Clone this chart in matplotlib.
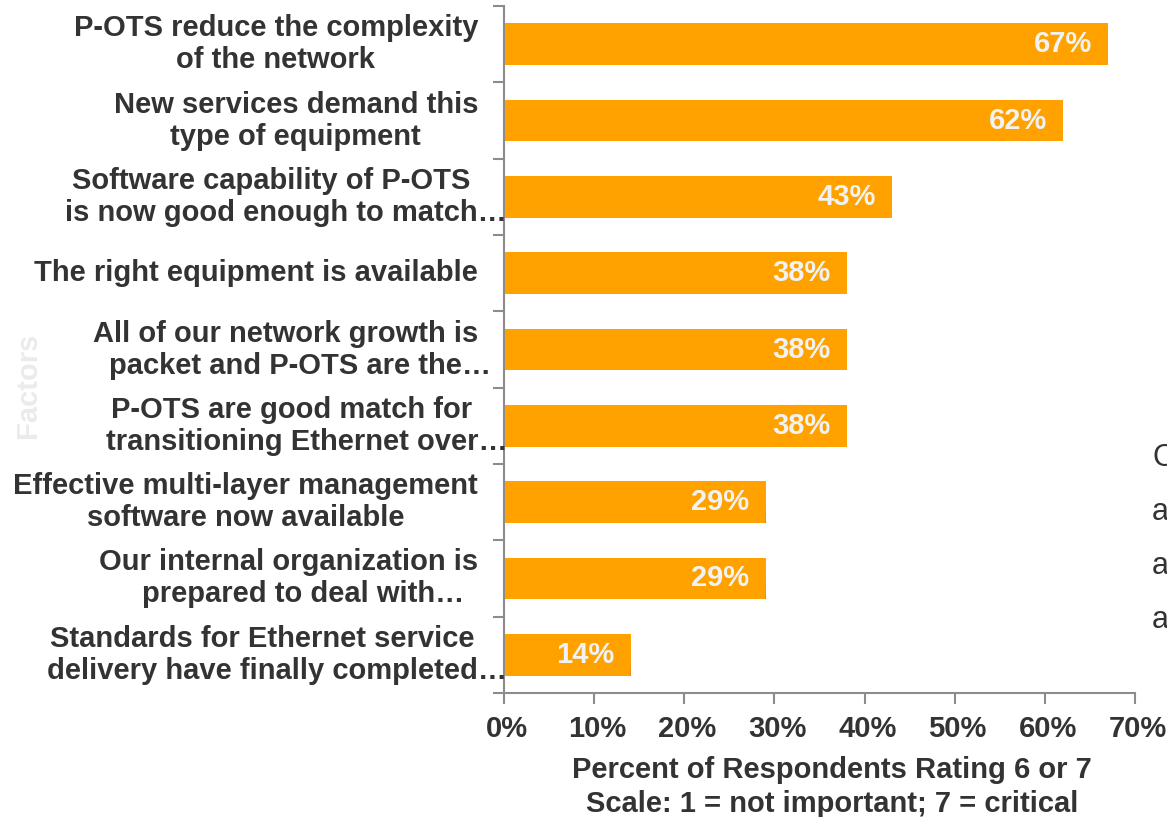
import matplotlib
matplotlib.use("Agg")
import matplotlib.pyplot as plt
import matplotlib.transforms as mtransforms
import numpy as np
from matplotlib.colors import LinearSegmentedColormap
from matplotlib.ticker import FixedLocator

# survey factors, top to bottom
factors = [
    "P-OTS reduce the complexity\nof the network",
    "New services demand this\ntype of equipment",
    "Software capability of P-OTS\nis now good enough to match…",
    "The right equipment is available",
    "All of our network growth is\npacket and P-OTS are the…",
    "P-OTS are good match for\ntransitioning Ethernet over…",
    "Effective multi-layer management\nsoftware now available",
    "Our internal organization is\nprepared to deal with…",
    "Standards for Ethernet service\ndelivery have finally completed…",
]
share = [67, 62, 43, 38, 38, 38, 29, 29, 14]
xticks = [0, 10, 20, 30, 40, 50, 60, 70]
side_letters = ["C", "a", "a", "a"]

plt.rcParams["font.family"] = ["Liberation Sans", "DejaVu Sans"]
plt.rcParams["font.weight"] = "bold"

TXT = "#333333"
GREY = "#8C8C8C"
FS = 21

W, H = 1167, 817
fig = plt.figure(figsize=(W / 100, H / 100), dpi=100)
ax = fig.add_axes([504 / W, 1 - 693 / H, (1135 - 504) / W, (693 - 6) / H])

ypos = np.arange(len(factors))[::-1]
bars = ax.barh(ypos, share, height=0.55, color="#FFA200", edgecolor="none")

# orange shading, light at top and darker at the lower edge
shade = LinearSegmentedColormap.from_list(
    "shade", [(0.0, "#F47820"), (0.12, "#FA8C10"), (0.3, "#FE9D02"), (1.0, "#FFAA00")])
grad = np.linspace(0, 1, 64).reshape(-1, 1)
for b in bars:
    x0, y0 = b.get_x(), b.get_y()
    im = ax.imshow(grad, cmap=shade, origin="lower", aspect="auto",
                   extent=[x0, x0 + b.get_width(), y0, y0 + b.get_height()])
    im.set_clip_path(b)

for y, v in zip(ypos, share):
    ax.text(v - 1.8, y, f"{v}%", ha="right", va="center", color="#F2F2F2",
            fontsize=21, fontweight="bold")

ax.set_xlim(0, 70)
ax.set_ylim(-0.5, len(factors) - 0.5)

ax.set_xticks(xticks)
ax.set_xticklabels([f"{t}%" for t in xticks], fontsize=FS, color=TXT)
ax.tick_params(axis="x", length=8, width=1.5, color=GREY, pad=8)
shift = mtransforms.ScaledTranslation(3 / 100, 0, fig.dpi_scale_trans)
for lab in ax.get_xticklabels():
    lab.set_transform(lab.get_transform() + shift)

ax.set_yticks([])
ax.yaxis.set_minor_locator(FixedLocator(np.arange(-0.5, len(factors), 1.0)))
ax.tick_params(axis="y", which="minor", length=8, width=1.5, color=GREY)

# category labels: each line centred on its text without the trailing ellipsis,
# block placed so the widest line ends 26px left of the axis
renderer = fig.canvas.get_renderer()


def text_width(s):
    probe = fig.text(0, 0, s, fontsize=FS)
    w = probe.get_window_extent(renderer).width
    probe.remove()
    return w


LINE_GAP = 32  # px between the two lines of a label
px2pt = 72 / fig.dpi
for y, lab in zip(ypos, factors):
    lines = lab.split("\n")
    widths = [text_width(ln.rstrip("…")) for ln in lines]
    xc = -26 - max(widths) / 2
    n = len(lines)
    for k, (ln, w) in enumerate(zip(lines, widths)):
        dy = ((n - 1) / 2 - k) * LINE_GAP
        ax.annotate(ln, xy=(0, y), xycoords=ax.get_yaxis_transform(),
                    xytext=((xc - w / 2) * px2pt, dy * px2pt),
                    textcoords="offset points", ha="left", va="center",
                    fontsize=FS, color=TXT, annotation_clip=False)

for side in ("top", "right"):
    ax.spines[side].set_visible(False)
for side in ("left", "bottom"):
    ax.spines[side].set_color(GREY)
    ax.spines[side].set_linewidth(1.5)

fig.text(832 / W, 1 - 787 / H,
         "Percent of Respondents Rating 6 or 7\nScale: 1 = not important; 7 = critical",
         ha="center", va="center", fontsize=FS, color=TXT, linespacing=1.3)

fig.text(28 / W, 1 - 385 / H, "Factors", rotation=90, ha="center", va="center",
         fontsize=FS, color="#EBEBEB")

for i, ch in enumerate(side_letters):
    fig.text(1152 / W, 1 - (458 + 54 * i) / H, ch, ha="left", va="center",
             fontsize=22, fontweight="normal", color=TXT)

fig.savefig("out.png", dpi=100)
